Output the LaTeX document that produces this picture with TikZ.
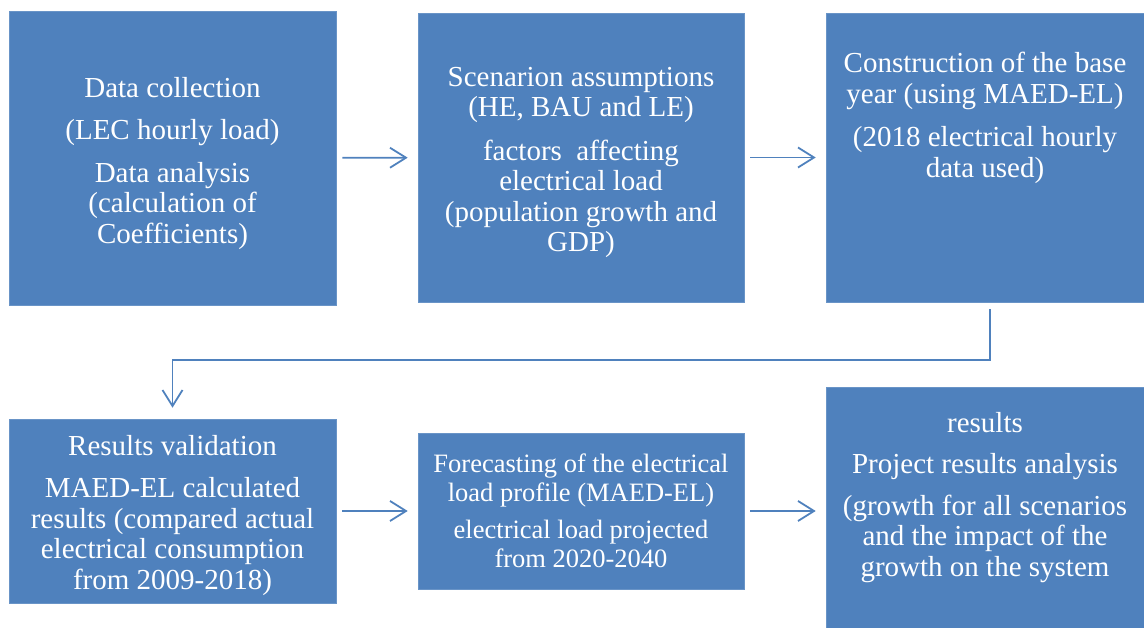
\documentclass[tikz,border=0pt]{standalone}
\usepackage{fontspec}
\setmainfont{Liberation Serif}
\usepackage{xcolor}
\usepackage{tikz}
\usetikzlibrary{arrows.meta}

\definecolor{boxblue}{HTML}{4F81BD}

\tikzset{
  stage/.style={rectangle, fill=boxblue, draw=boxblue!85!white, line width=0.6pt,
                inner sep=0pt},
  words/.style={text=white, align=center, inner sep=0pt, anchor=north,
                font=\fontsize{29}{30.5}\selectfont},
  flow/.style={draw=boxblue, line width=1.8pt,
               -{Straight Barb[length=16pt,width=20pt,line width=1.8pt]}}
}

\begin{document}
\begin{tikzpicture}[x=1pt,y=-1pt]

\useasboundingbox (0,0) rectangle (1144,628);

% boxes
\node[stage, minimum width=327pt, minimum height=294pt] (collect) at (172.5,158) {};
\node[stage, minimum width=326pt, minimum height=289pt] (scenario) at (581,157.5) {};
\node[stage, minimum width=318pt, minimum height=289pt] (baseyear) at (985,157.5) {};
\node[stage, minimum width=327pt, minimum height=184pt] (validate) at (172.5,511) {};
\node[stage, minimum width=326pt, minimum height=156pt] (forecast) at (581,511) {};
\node[stage, minimum width=318pt, minimum height=241pt] (results) at (985,507.5) {};

% texts
\node[words] (collecttext) at (172.5,77)
  {Data collection\\[12pt](LEC hourly load)\\[12pt]Data analysis\\(calculation of\\Coefficients)};
\node[words] (scenariotext) at (581,67)
  {Scenarion assumptions\\(HE, BAU and LE)\\[13pt]factors\ \ affecting\\electrical load\\(population growth and\\GDP)};
\node[words] (basetext) at (985,52)
  {Construction of the base\\year (using MAED-EL)\\[13pt](2018 electrical hourly\\data used)};
\node[words] (validatetext) at (172.5,435)
  {Results validation\\[12pt]MAED-EL calculated\\results (compared actual\\electrical consumption\\from 2009-2018)};
\node[words, font=\fontsize{26.5}{28.5}\selectfont] (forecasttext) at (581,454)
  {Forecasting of the electrical\\load profile (MAED-EL)\\[9pt]electrical load projected\\from 2020-2040};
\node[words] (restext) at (985,412)
  {results\\[11pt]Project results analysis\\[11pt](growth for all scenarios\\and the impact of the\\growth on the system};

\coordinate (turn) at (990,360);

\draw[flow, shorten <=6pt, shorten >=10pt] (collect) -- (scenario);
\draw[flow, shorten <=6pt, shorten >=10pt] (scenario) -- (baseyear);
\draw[flow, shorten >=11pt] ([xshift=5pt,yshift=-7pt]baseyear.south) -- (turn) -| (validate.north);
\draw[flow, shorten <=6pt, shorten >=10pt] (validate) -- (forecast);
\draw[flow, shorten <=6pt, shorten >=10pt] (forecast) -- (results.west |- forecast);

\end{tikzpicture}
\end{document}
